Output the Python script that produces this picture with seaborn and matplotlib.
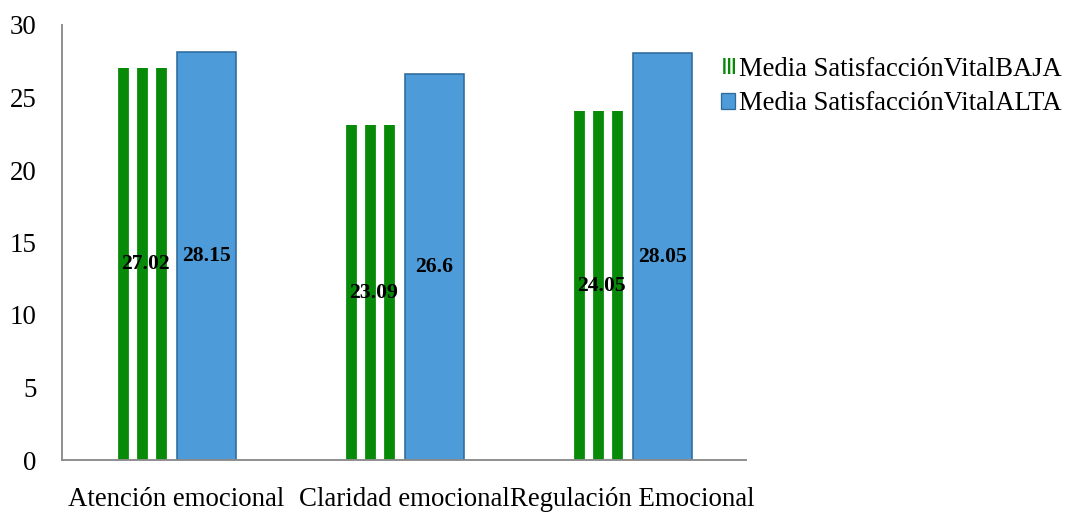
import matplotlib
matplotlib.use("Agg")
import matplotlib.pyplot as plt
import matplotlib.patches as mpatches
import pandas as pd
import seaborn as sns

categories = ["Atención emocional", "Claridad emocional", "Regulación Emocional"]
series_names = ["Media SatisfacciónVitalBAJA", "Media SatisfacciónVitalALTA"]
baja_values = [27.02, 23.09, 24.05]
alta_values = [28.15, 26.6, 28.05]

GREEN = "#078a07"
BLUE = "#4d9bd8"
BLUE_EDGE = "#2d6a9c"
AXIS_GREY = "#8c8c8c"
DPI = 114  # hatch spacing = DPI / 6 = 19 px, divides the 228 px category step


def build_frame() -> pd.DataFrame:
    rows = []
    for cat, b, a in zip(categories, baja_values, alta_values):
        rows.append({"categoria": cat, "serie": series_names[0], "valor": b})
        rows.append({"categoria": cat, "serie": series_names[1], "valor": a})
    return pd.DataFrame(rows)


def main() -> None:
    sns.set_style("white")
    plt.rcParams["font.family"] = ["Liberation Serif", "DejaVu Serif"]
    plt.rcParams["text.color"] = "black"
    plt.rcParams["hatch.linewidth"] = 6.8

    data = build_frame()
    fig = plt.figure(figsize=(1068 / DPI, 514 / DPI), dpi=DPI)
    ax = fig.add_axes([62 / 1068, 54 / 514, 684 / 1068, 435 / 514])

    sns.barplot(
        data=data,
        x="categoria",
        y="valor",
        hue="serie",
        order=categories,
        hue_order=series_names,
        palette=[GREEN, BLUE],
        width=0.53,
        gap=0.03,
        errorbar=None,
        legend=False,
        ax=ax,
    )

    green_bars, blue_bars = ax.containers[0], ax.containers[1]
    for patch in green_bars:
        # white body with thick green vertical hatch -> green/white stripes
        patch.set_facecolor("white")
        patch.set_edgecolor(GREEN)
        patch.set_hatch("|")
        patch.set_linewidth(0)
    for patch in blue_bars:
        patch.set_facecolor(BLUE)
        patch.set_edgecolor(BLUE_EDGE)
        patch.set_linewidth(1.0)

    for container in ax.containers:
        ax.bar_label(container, fmt="%g", label_type="center",
                     fontsize=13.7, fontweight="bold", color="black")

    ax.set_ylim(0, 30)
    ax.set_yticks([0, 5, 10, 15, 20, 25, 30])
    ax.set_xlim(-0.5, 2.5)
    ax.set_xticks([-0.5, 0.5, 1.5, 2.5])
    ax.set_xticklabels([])
    ax.set_xticks([0, 1, 2], minor=True)
    ax.set_xticklabels(categories, minor=True)
    ax.tick_params(axis="x", which="major", length=5, width=1, color=AXIS_GREY, direction="out")
    ax.tick_params(axis="x", which="minor", length=0, pad=17, labelsize=17, labelcolor="black")
    ax.tick_params(axis="y", length=5, width=1, color=AXIS_GREY, direction="out",
                   pad=11, labelsize=17, labelcolor="black")
    ax.set_xlabel("")
    ax.set_ylabel("")

    for side in ["top", "right"]:
        ax.spines[side].set_visible(False)
    for side in ["left", "bottom"]:
        ax.spines[side].set_color(AXIS_GREY)
        ax.spines[side].set_linewidth(1.2)

    # legend swatches use a finer stripe so three stripes fit in the small box
    with plt.rc_context({"hatch.linewidth": 1.5}):
        handles = [
            mpatches.Patch(facecolor="white", edgecolor=GREEN, hatch="||||", linewidth=0,
                           label=series_names[0]),
            mpatches.Patch(facecolor=BLUE, edgecolor=BLUE_EDGE, linewidth=0.8,
                           label=series_names[1]),
        ]
        fig.legend(
            handles=handles,
            loc="upper left",
            bbox_to_anchor=(710 / 1068, 1 - 46 / 514),
            frameon=False,
            fontsize=16.8,
            labelcolor="black",
            handlelength=0.55,
            handleheight=0.55,
            handletextpad=0.15,
            labelspacing=0.35,
            borderaxespad=0,
        )

    fig.savefig("out.png", dpi=DPI)
    plt.close(fig)


if __name__ == "__main__":
    main()
